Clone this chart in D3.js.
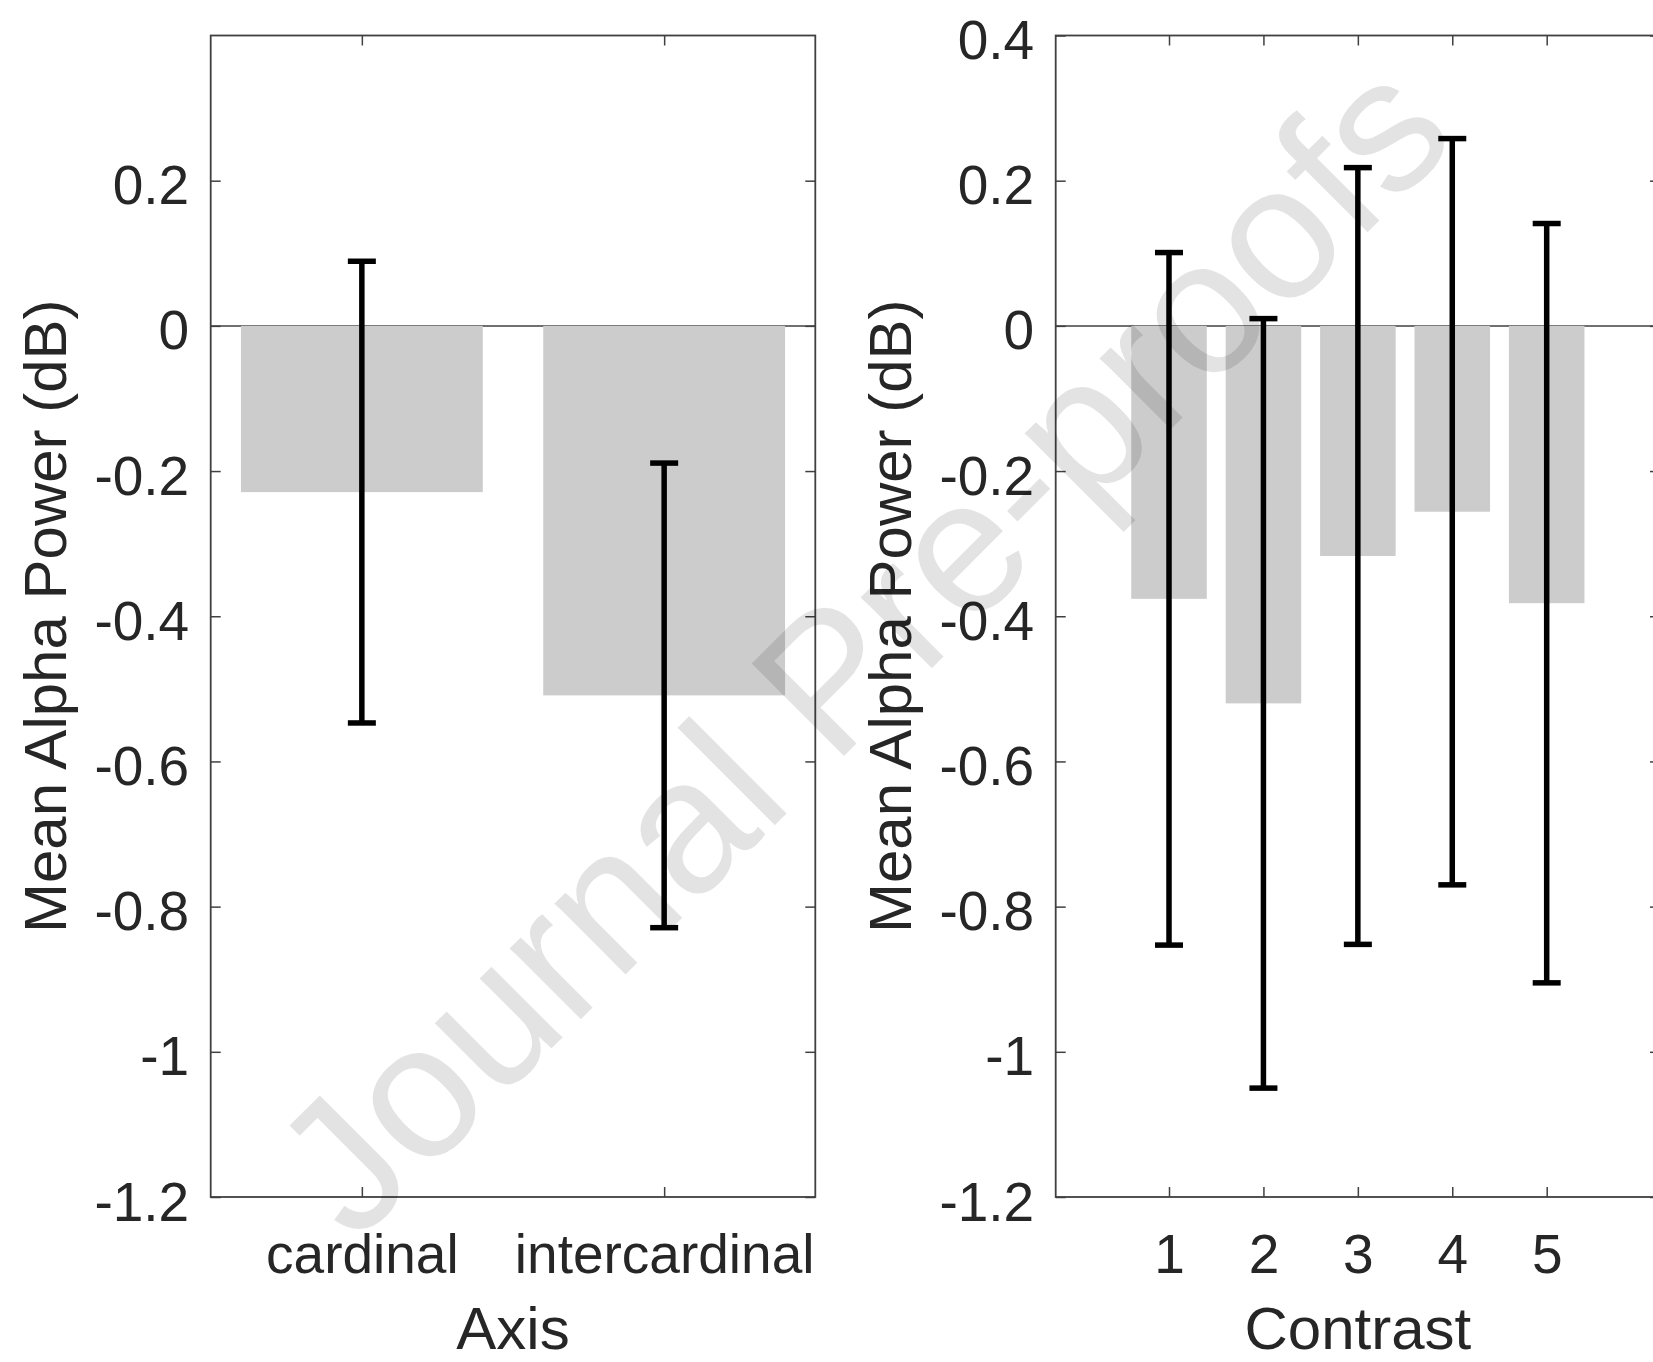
<!DOCTYPE html>
<html>
<head>
<meta charset="utf-8">
<script src="https://cdn.jsdelivr.net/npm/d3@7"></script>
<style>
  html, body { margin: 0; padding: 0; background: #fff; overflow: hidden; }
  svg { display: block; }
  text { font-family: "Liberation Sans", Arial, Helvetica, sans-serif; }
</style>
</head>
<body>
<svg id="chart" width="1653" height="1362"></svg>
<script>
// left panel: grouped by axis
const axisCats = ["cardinal", "intercardinal"]
const axisMeans = [-0.229, -0.509]
const axisErr = [0.318, 0.320]
const axisYTicks = [0.2, 0, -0.2, -0.4, -0.6, -0.8, -1, -1.2]

// right panel: grouped by contrast level
const contrastCats = ["1", "2", "3", "4", "5"]
const contrastMeans = [-0.376, -0.520, -0.317, -0.256, -0.382]
const contrastErr = [0.477, 0.530, 0.535, 0.514, 0.523]
const contrastYTicks = [0.4, 0.2, 0, -0.2, -0.4, -0.6, -0.8, -1, -1.2]

const yLabel = "Mean Alpha Power (dB)"
const svg = d3.select("#chart")

const plotTop = 35.5, plotBottom = 1197
const axisColor = "#404040", textColor = "#262626"

function panel(opt) {
    let x = d3.scaleLinear().domain(opt.xDomain).range([opt.left, opt.right])
    let y = d3.scaleLinear().domain([-1.2, 0.4]).range([plotBottom, plotTop])
    let g = svg.append("g")
    let pos = opt.cats.map((c, i) => i + 1)

    // baseline at zero
    g.append("line")
        .attr("x1", opt.left).attr("x2", opt.right)
        .attr("y1", y(0)).attr("y2", y(0))
        .attr("stroke", "#707070").attr("stroke-width", 2)

    g.selectAll(".bar")
        .data(opt.means)
        .enter()
        .append("rect")
        .attr("x", (d, i) => x(pos[i] - 0.4))
        .attr("width", (d, i) => x(pos[i] + 0.4) - x(pos[i] - 0.4))
        .attr("y", d => y(Math.max(0, d)))
        .attr("height", d => Math.abs(y(d) - y(0)))
        .attr("fill", "#cccccc")

    // error bars
    let eb = g.selectAll(".err")
        .data(opt.means.map((m, i) => ({x: pos[i], lo: m - opt.err[i], hi: m + opt.err[i]})))
        .enter().append("g")
        .attr("stroke", "#000").attr("stroke-width", 5.5)
    eb.append("line")
        .attr("x1", d => x(d.x)).attr("x2", d => x(d.x))
        .attr("y1", d => y(d.hi)).attr("y2", d => y(d.lo))
    eb.append("line")
        .attr("x1", d => x(d.x) - 14).attr("x2", d => x(d.x) + 14)
        .attr("y1", d => y(d.hi)).attr("y2", d => y(d.hi))
    eb.append("line")
        .attr("x1", d => x(d.x) - 14).attr("x2", d => x(d.x) + 14)
        .attr("y1", d => y(d.lo)).attr("y2", d => y(d.lo))

    // axes with inward ticks on all four sides
    let ax = g.append("g").attr("transform", `translate(${opt.left},0)`)
        .call(d3.axisLeft(y).tickValues(opt.yTicks).tickFormat(d => String(d)).tickSizeInner(-10).tickSizeOuter(0).tickPadding(21.5))
    ax.selectAll("text").attr("dy", "0.42em").style("font-size", "55px").attr("fill", textColor)

    g.append("g").attr("transform", `translate(${opt.right},0)`)
        .call(d3.axisRight(y).tickValues(opt.yTicks).tickFormat("").tickSizeInner(-10).tickSizeOuter(0))

    let bx = g.append("g").attr("transform", `translate(0,${plotBottom})`)
        .call(d3.axisBottom(x).tickValues(pos).tickFormat((d, i) => opt.cats[i]).tickSizeInner(-10).tickSizeOuter(0))
    bx.selectAll("text").attr("y", 75.5).attr("dy", 0).style("font-size", "55px").attr("fill", textColor)

    g.append("g").attr("transform", `translate(0,${plotTop})`)
        .call(d3.axisTop(x).tickValues(pos).tickFormat("").tickSizeInner(-10).tickSizeOuter(0))

    g.selectAll(".domain").remove()
    g.selectAll(".tick line").attr("stroke", axisColor).attr("stroke-width", 1.5)
    g.selectAll("g").attr("font-family", null)

    g.append("rect")
        .attr("x", opt.left).attr("y", plotTop)
        .attr("width", opt.right - opt.left).attr("height", plotBottom - plotTop)
        .attr("fill", "none").attr("stroke", axisColor).attr("stroke-width", 1.8)

    g.append("text")
        .attr("x", (opt.left + opt.right) / 2).attr("y", 1349)
        .attr("text-anchor", "middle").style("font-size", "60px").attr("fill", textColor)
        .text(opt.xLabel)

    g.append("text")
        .attr("transform", `translate(${opt.left - 145},${(plotTop + plotBottom) / 2}) rotate(-90)`)
        .attr("text-anchor", "middle").style("font-size", "60px").attr("fill", textColor)
        .text(yLabel)
}

panel({cats: axisCats, means: axisMeans, err: axisErr, yTicks: axisYTicks,
    xDomain: [0.5, 2.5], left: 210.7, right: 815.3, xLabel: "Axis"})
panel({cats: contrastCats, means: contrastMeans, err: contrastErr, yTicks: contrastYTicks,
    xDomain: [-0.2, 6.2], left: 1055.7, right: 1660, xLabel: "Contrast"})

// watermark
svg.append("text")
    .attr("transform", "translate(355,1245) rotate(-45)")
    .style("font-size", "190px")
    .attr("fill", "#000").attr("fill-opacity", 0.11)
    .text("Journal Pre-proofs")
</script>
</body>
</html>
